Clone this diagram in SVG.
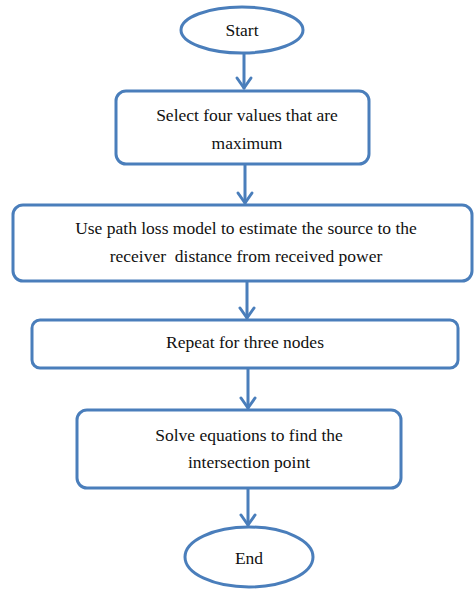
<svg xmlns="http://www.w3.org/2000/svg" width="474" height="590" viewBox="0 0 474 590">
<rect width="474" height="590" fill="#fff"/>
<g id="connectors" fill="none" stroke="#4a7ebb" stroke-width="3" stroke-linecap="round" stroke-linejoin="round">
<line x1="244" y1="53" x2="244" y2="88"/>
<polyline points="237,78 244,88 251,78"/>
<line x1="245" y1="164" x2="245" y2="203"/>
<polyline points="238,193 245,203 252,193"/>
<line x1="247" y1="281" x2="247" y2="318"/>
<polyline points="240,308 247,318 254,308"/>
<line x1="248" y1="368" x2="248" y2="408"/>
<polyline points="241,398 248,408 255,398"/>
<line x1="248" y1="488" x2="248" y2="525"/>
<polyline points="241,515 248,525 255,515"/>
</g>
<g id="nodes" font-family="'Liberation Serif', serif" font-size="17.5" text-anchor="middle">
<g id="start">
<ellipse cx="242" cy="30" rx="61" ry="23" fill="#fff" stroke="#4a7ebb" stroke-width="3"/>
<text x="242" y="36" fill="#111">Start</text>
</g>
<g id="select">
<rect x="116" y="91" width="253" height="73" rx="10" fill="#fff" stroke="#4a7ebb" stroke-width="3"/>
<text x="247" y="121" fill="#111">Select four values that are</text>
<text x="247" y="149" fill="#111">maximum</text>
</g>
<g id="pathloss">
<rect x="13" y="205" width="459" height="76" rx="10" fill="#fff" stroke="#4a7ebb" stroke-width="3"/>
<text x="246" y="234" fill="#111">Use path loss model to estimate the source to the</text>
<text x="246" y="262" fill="#111" xml:space="preserve">receiver  distance from received power</text>
</g>
<g id="repeat">
<rect x="32" y="320" width="426" height="48" rx="8" fill="#fff" stroke="#4a7ebb" stroke-width="3"/>
<text x="245" y="348" fill="#111">Repeat for three nodes</text>
</g>
<g id="solve">
<rect x="77" y="410" width="324" height="78" rx="10" fill="#fff" stroke="#4a7ebb" stroke-width="3"/>
<text x="249" y="441" fill="#111">Solve equations to find the</text>
<text x="249" y="468" fill="#111">intersection point</text>
</g>
<g id="end">
<ellipse cx="249" cy="557" rx="64" ry="30" fill="#fff" stroke="#4a7ebb" stroke-width="3"/>
<text x="249" y="564" fill="#111">End</text>
</g>
</g>
</svg>
